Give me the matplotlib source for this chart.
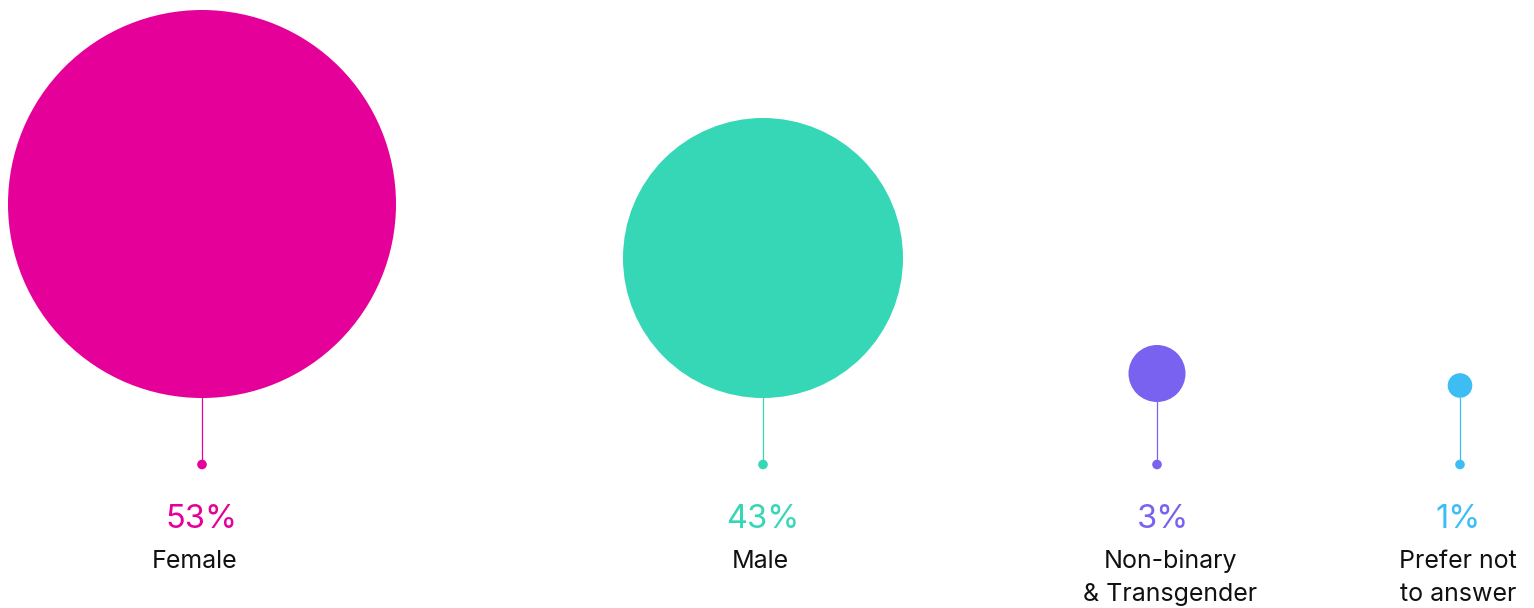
import matplotlib.pyplot as plt
from matplotlib.patches import Circle

plt.rcParams['font.family'] = ['Inter', 'DejaVu Sans']

# data
categories = ["Female", "Male", "Non-binary\n& Transgender", "Prefer not\nto answer"]
shares = [53, 43, 3, 1]
colors = ["#E6009A", "#36D7B7", "#7862EF", "#3DBDF4"]

# layout (pixels)
centers_x = [202, 763, 1157, 1460]
radii = [194, 140, 28.5, 12.3]
circle_y = [204, 258, 373.5, 385.5]
dot_y = 464.5
pct_dx = [-1, 0, 6, -2]
label_dx = [-7, -3, 13, -2]

fig = plt.figure(figsize=(15.34, 6.08), dpi=100)
ax = fig.add_axes([0, 0, 1, 1])
ax.set_xlim(0, 1534)
ax.set_ylim(608, 0)
ax.set_aspect('equal')
ax.axis('off')

for i in range(len(categories)):
    x = centers_x[i]
    c = colors[i]
    ax.add_patch(Circle((x, circle_y[i]), radii[i], color=c, lw=0, zorder=3))
    ax.plot([x, x], [circle_y[i] + radii[i], dot_y], color=c, lw=0.9, zorder=2)
    ax.add_patch(Circle((x, dot_y), 4.8, color=c, lw=0, zorder=3))
    ax.text(x + pct_dx[i], 528, f"{shares[i]}%", color=c, fontsize=23.5,
            ha='center', va='baseline')
    for j, line in enumerate(categories[i].split("\n")):
        ax.text(x + label_dx[i], 568 + 33 * j, line, color="#111111", fontsize=18,
                ha='center', va='baseline')

fig.savefig("out.png", dpi=100)
